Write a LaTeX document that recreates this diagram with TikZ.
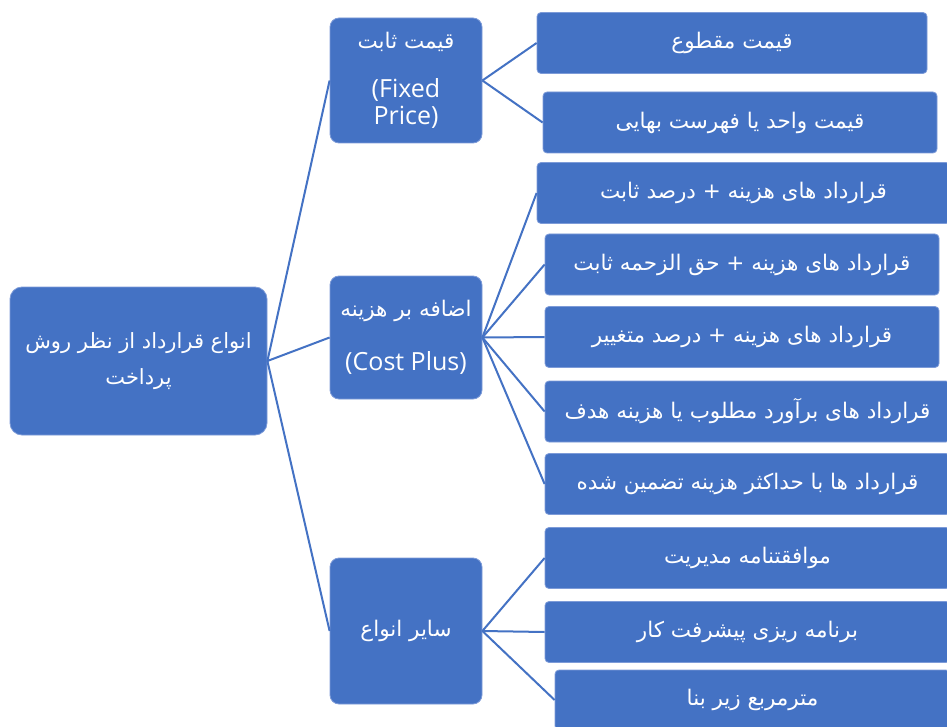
\documentclass[tikz,border=0pt]{standalone}
\usepackage{fontspec}
\newfontfamily\arabicfont[Script=Arabic]{DejaVu Sans}
\newfontfamily\latinfont{Open Sans}
\TeXXeTstate=1
\definecolor{boxblue}{HTML}{4472C4}
\definecolor{rimblue}{HTML}{7D9BD8}
\begin{document}
\begin{tikzpicture}[x=1pt,y=-1pt,
  box/.style={draw=rimblue,line width=0.8pt,fill=boxblue,text=white,inner sep=0pt,align=center},
  mid/.style={box,rounded corners=9pt,minimum width=152pt},
  leaf/.style={box,rounded corners=4pt,minimum height=61pt,font=\arabicfont\fontsize{21.5}{24}\selectfont},
  link/.style={draw=boxblue,line width=2pt}]
\clip (0,0) rectangle (947,727);
\fill[white] (0,0) rectangle (947,727);

\node[box,rounded corners=12pt,minimum width=257pt,minimum height=148pt,font=\arabicfont\fontsize{21}{36}\selectfont] (root) at (138.5,361) {\beginR انواع قرارداد از نظر روش\endR\\\beginR پرداخت\endR};

\node[mid,minimum height=125pt,font=\fontsize{25}{27}\selectfont] (fixed) at (406,80.5) {\arabicfont\fontsize{21.5}{24}\selectfont\beginR قیمت ثابت\endR\\[22pt]\latinfont (Fixed\\\latinfont Price)};
\node[mid,minimum height=123pt,font=\fontsize{25}{27}\selectfont] (cost) at (406,337.5) {\arabicfont\fontsize{21.5}{24}\selectfont\beginR اضافه بر هزینه\endR\\[27pt]\latinfont (Cost Plus)};
\node[mid,minimum height=146pt,font=\arabicfont\fontsize{21.5}{24}\selectfont] (other) at (406,631) {\beginR سایر انواع\endR};

\node[leaf,minimum width=390pt] (r1) at (732,43) {\beginR قیمت مقطوع\endR};
\node[leaf,minimum width=394pt] (r2) at (740,122.5) {\beginR قیمت واحد یا فهرست بهایی\endR};
\node[leaf,minimum width=413pt] (r3) at (743.5,193) {\beginR قرارداد های هزینه + درصد ثابت\endR};
\node[leaf,minimum width=394pt] (r4) at (742,264.5) {\beginR قرارداد های هزینه + حق الزحمه ثابت\endR};
\node[leaf,minimum width=394pt] (r5) at (742,337) {\beginR قرارداد های هزینه + درصد متغییر\endR};
\node[leaf,minimum width=405pt] (r6) at (747.5,411.5) {\beginR قرارداد های برآورد مطلوب یا هزینه هدف\endR};
\node[leaf,minimum width=405pt] (r7) at (747.5,484) {\beginR قرارداد ها با حداکثر هزینه تضمین شده\endR};
\node[leaf,minimum width=405pt] (r8) at (747.5,558) {\beginR موافقتنامه مدیریت\endR};
\node[leaf,minimum width=405pt] (r9) at (747.5,632) {\beginR برنامه ریزی پیشرفت کار\endR};
\node[leaf,minimum width=395pt,minimum height=60pt] (r10) at (752.5,700) {\beginR مترمربع زیر بنا\endR};

\draw[link] (root.east) -- (fixed.west);
\draw[link] (root.east) -- (cost.west);
\draw[link] (root.east) -- (other.west);
\foreach \leafname in {r1,r2}
  \draw[link] (fixed.east) -- (\leafname.west);
\foreach \leafname in {r3,r4,r5,r6,r7}
  \draw[link] (cost.east) -- (\leafname.west);
\foreach \leafname in {r8,r9,r10}
  \draw[link] (other.east) -- (\leafname.west);
\end{tikzpicture}
\end{document}
